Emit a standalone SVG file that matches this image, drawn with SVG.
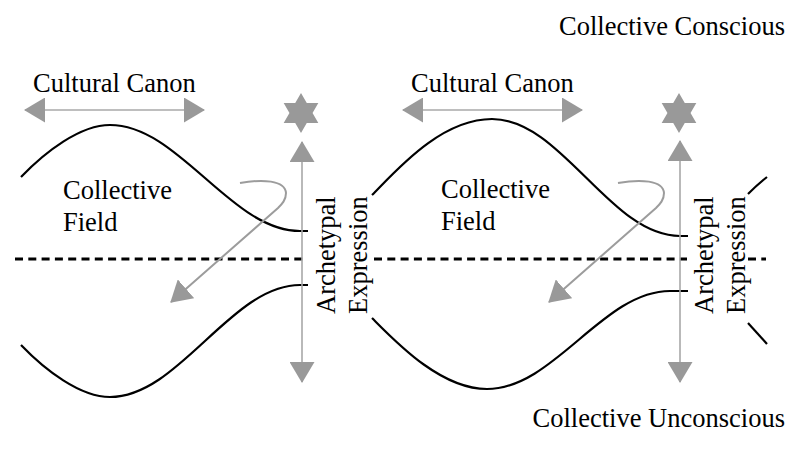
<svg xmlns="http://www.w3.org/2000/svg" width="786" height="454" viewBox="0 0 786 454">
  <style>
    text { font-family: "Liberation Serif", "Times New Roman", serif; font-size: 26.5px; fill: #000; }
    .wave { fill: none; stroke: #000; stroke-width: 2.2; stroke-linecap: butt; }
    .divider { fill: none; stroke: #000; stroke-width: 3; stroke-dasharray: 8 5.3; }
    .arrow { fill: none; stroke: #a8a8a8; stroke-width: 1.6; }
    .loop { fill: none; stroke: #9c9c9c; stroke-width: 2; }
    .star { fill: #999; }
  </style>
  <defs>
    <marker id="head" markerUnits="userSpaceOnUse" markerWidth="21" markerHeight="25" viewBox="0 0 21 25" refX="20" refY="12.5" orient="auto-start-reverse">
      <path d="M0,0 L21,12.5 L0,25 z" fill="#999"/>
    </marker>
    <polygon id="hexstar" points="0,-20 5.77,-10 17.32,-10 11.55,0 17.32,10 5.77,10 0,20 -5.77,10 -17.32,10 -11.55,0 -17.32,-10 -5.77,-10"/>
  </defs>

  <rect width="786" height="454" fill="#fff"/>

  <!-- layer labels -->
  <g id="conscious">
    <text x="785" y="35" text-anchor="end">Collective Conscious</text>
  </g>
  <g id="unconscious">
    <text x="785" y="427" text-anchor="end">Collective Unconscious</text>
  </g>

  <!-- threshold between conscious and unconscious -->
  <g id="threshold">
    <line class="divider" x1="15" y1="259" x2="307" y2="259"/>
    <line class="divider" x1="374" y1="259" x2="687" y2="259"/>
    <line class="divider" x1="748" y1="259" x2="766" y2="259"/>
  </g>

  <!-- first field -->
  <g id="field-1">
    <path class="wave" d="M21,177 C45,152 80,125 110,125 C179,125 231,231 300,231 L308,231"/>
    <path class="wave" d="M21,345 C45,370 80,397 110,397 C179,397 231,285 300,285 L308,285"/>
    <text x="63" y="199">Collective</text>
    <text x="63" y="231">Field</text>
  </g>
  <g id="canon-1">
    <text x="33" y="92">Cultural Canon</text>
  </g>
  <g id="star-1">
    <use href="#hexstar" class="star" x="301" y="113"/>
  </g>
  <g id="expression-1">
    <text transform="translate(335,314) rotate(-90)">Archetypal</text>
    <text transform="translate(367,314) rotate(-90)">Expression</text>
  </g>

  <!-- second field -->
  <g id="field-2">
    <path class="wave" d="M372,195 C395,172 440,119 492,119 C562,119 610,236 680,236 L688,236"/>
    <path class="wave" d="M372,318 C395,341 440,389 487,389 C554,389 603,291 670,291 L688,291"/>
    <text x="441" y="198">Collective</text>
    <text x="441" y="230">Field</text>
  </g>
  <g id="canon-2">
    <text x="411" y="92">Cultural Canon</text>
  </g>
  <g id="star-2">
    <use href="#hexstar" class="star" x="679" y="113"/>
  </g>
  <g id="expression-2">
    <text transform="translate(713,314) rotate(-90)">Archetypal</text>
    <text transform="translate(745,314) rotate(-90)">Expression</text>
  </g>

  <!-- start of the next field -->
  <g id="field-3">
    <path class="wave" d="M748,194 Q757,185 767,177"/>
    <path class="wave" d="M748,323 Q757,333 767,344"/>
  </g>

  <!-- connectors -->
  <g id="connectors">
    <line class="arrow" x1="25" y1="110" x2="204" y2="110" marker-start="url(#head)" marker-end="url(#head)"/>
    <line class="arrow" x1="403" y1="110" x2="582" y2="110" marker-start="url(#head)" marker-end="url(#head)"/>
    <line class="arrow" x1="302" y1="142" x2="302" y2="382" marker-start="url(#head)" marker-end="url(#head)"/>
    <line class="arrow" x1="680" y1="141" x2="680" y2="382" marker-start="url(#head)" marker-end="url(#head)"/>
    <path class="loop" d="M240,183 C262,179 285,180 286,193 C286,200 282,204 278,208 L171,302" marker-end="url(#head)"/>
    <path class="loop" d="M618,183 C640,179 663,180 664,193 C664,200 660,204 656,208 L549,302" marker-end="url(#head)"/>
  </g>
</svg>
